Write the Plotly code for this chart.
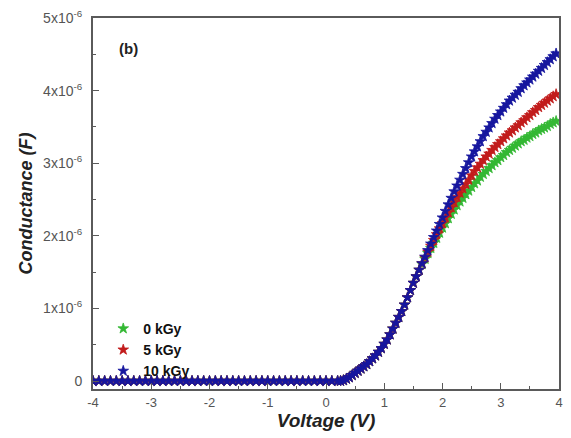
import plotly.graph_objects as go

# ---- data (conductance in units of 1e-6) ----
base_v = [-4.0, -3.9, -3.8, -3.7, -3.6, -3.5, -3.4, -3.3, -3.2, -3.1,
          -3.0, -2.9, -2.8, -2.7, -2.6, -2.5, -2.4, -2.3, -2.2, -2.1,
          -2.0, -1.9, -1.8, -1.7, -1.6, -1.5, -1.4, -1.3, -1.2, -1.1,
          -1.0, -0.9, -0.8, -0.7, -0.6, -0.5, -0.4, -0.3, -0.2, -0.1,
          0.0, 0.1, 0.2]
base_g = [0.0, 0.0, 0.0, 0.0, 0.0, 0.0, 0.0, 0.0, 0.0, 0.0,
          0.0, 0.0, 0.0, 0.0, 0.0, 0.0, 0.0, 0.0, 0.0, 0.0,
          0.0, 0.0, 0.0, 0.0, 0.0, 0.0, 0.0, 0.0, 0.0, 0.0,
          0.0, 0.0, 0.0, 0.0, 0.0, 0.0, 0.0, 0.0, 0.0, 0.0,
          0.0, 0.0, 0.0]

rise_v = [0.25, 0.30, 0.35, 0.40, 0.45, 0.50, 0.55, 0.60, 0.65, 0.70,
          0.75, 0.80, 0.85, 0.90, 0.95, 1.00, 1.05, 1.10, 1.15, 1.20,
          1.25, 1.30, 1.35, 1.40, 1.45, 1.50, 1.55, 1.60]
rise_g = [0.00, 0.01, 0.03, 0.05, 0.08, 0.11, 0.14, 0.17, 0.20, 0.23,
          0.27, 0.31, 0.35, 0.40, 0.45, 0.51, 0.57, 0.64, 0.72, 0.80,
          0.88, 0.96, 1.05, 1.15, 1.25, 1.35, 1.44, 1.53]

high_v = [1.65, 1.70, 1.75, 1.80, 1.85, 1.90, 1.95, 2.00, 2.05, 2.10,
          2.15, 2.20, 2.25, 2.30, 2.35, 2.40, 2.45, 2.50, 2.55, 2.60,
          2.65, 2.70, 2.75, 2.80, 2.85, 2.90, 2.95, 3.00, 3.05, 3.10,
          3.15, 3.20, 3.25, 3.30, 3.35, 3.40, 3.45, 3.50, 3.55, 3.60,
          3.65, 3.70, 3.75, 3.80, 3.85, 3.90, 3.95]
g0_high = [1.61, 1.68, 1.76, 1.83, 1.90, 1.97, 2.04, 2.11, 2.17, 2.24,
           2.30, 2.36, 2.42, 2.47, 2.52, 2.57, 2.62, 2.67, 2.72, 2.76,
           2.81, 2.85, 2.89, 2.93, 2.97, 3.01, 3.04, 3.08, 3.11, 3.15,
           3.18, 3.21, 3.24, 3.27, 3.30, 3.32, 3.35, 3.37, 3.40, 3.42,
           3.45, 3.47, 3.49, 3.51, 3.54, 3.56, 3.58]
g5_high = [1.62, 1.70, 1.78, 1.86, 1.94, 2.02, 2.10, 2.17, 2.25, 2.32,
           2.39, 2.46, 2.53, 2.59, 2.65, 2.71, 2.77, 2.83, 2.89, 2.94,
           2.99, 3.04, 3.09, 3.13, 3.18, 3.22, 3.26, 3.30, 3.34, 3.38,
           3.42, 3.45, 3.49, 3.52, 3.56, 3.59, 3.63, 3.66, 3.70, 3.73,
           3.77, 3.80, 3.83, 3.86, 3.89, 3.92, 3.95]
g10_high = [1.62, 1.71, 1.80, 1.89, 1.98, 2.07, 2.16, 2.25, 2.34, 2.43,
            2.52, 2.61, 2.69, 2.77, 2.85, 2.93, 3.01, 3.09, 3.16, 3.23,
            3.30, 3.37, 3.43, 3.49, 3.55, 3.61, 3.66, 3.71, 3.76, 3.81,
            3.86, 3.90, 3.94, 3.98, 4.03, 4.07, 4.11, 4.15, 4.19, 4.23,
            4.27, 4.31, 4.35, 4.39, 4.43, 4.47, 4.51]

series_names = ["0 kGy", "5 kGy", "10 kGy"]
series_high = [g0_high, g5_high, g10_high]
series_colors = ["#33b833", "#c21c1c", "#16169e"]

y_tickvals = [0, 1, 2, 3, 4, 5]
y_ticktext = ["0", "1x10<sup>-6</sup>", "2x10<sup>-6</sup>", "3x10<sup>-6</sup>",
              "4x10<sup>-6</sup>", "5x10<sup>-6</sup>"]
x_tickvals = [-4, -3, -2, -1, 0, 1, 2, 3, 4]
x_ticktext = ["-4", "-3", "-2", "-1", "0", "1", "2", "3", "4"]

SCALE = 1e-6

fig = go.Figure()
for name, high, col in zip(series_names, series_high, series_colors):
    xs = base_v + rise_v + high_v
    ys = [v * SCALE for v in base_g + rise_g + high]
    fig.add_trace(go.Scatter(
        x=xs, y=ys, mode="markers", name=name,
        marker=dict(symbol="star", size=8, color=col,
                    line=dict(width=0.8, color=col)),
    ))

axis_col = "#5a5a5a"
fig.update_layout(
    width=571, height=438,
    margin=dict(l=93, r=8, t=17, b=49),
    paper_bgcolor="white", plot_bgcolor="white",
    font=dict(family="Liberation Sans, Arial", color="#444444"),
    showlegend=True,
    legend=dict(x=0.022, y=0.205, xanchor="left", yanchor="top",
                bgcolor="rgba(0,0,0,0)",
                font=dict(size=14, color="#111111", family="Liberation Sans, Arial",
                          weight="bold"),
                itemsizing="trace", tracegroupgap=0),
    annotations=[dict(text="<b>(b)</b>", x=0.052, y=0.918, xref="paper", yref="paper",
                      showarrow=False, xanchor="left", yanchor="middle",
                      font=dict(size=15, color="#222222"))],
)
fig.update_xaxes(
    range=[-4, 4], tickvals=x_tickvals, ticktext=x_ticktext,
    ticks="inside", ticklen=6, tickwidth=1.2,
    tickcolor=axis_col, showline=True, linecolor=axis_col, linewidth=2, mirror=True,
    showgrid=False, zeroline=False, tickfont=dict(size=13, color="#555555"),
    minor=dict(dtick=0.5, ticks="inside", ticklen=3, tickcolor=axis_col, showgrid=False),
    title=dict(text="<b><i>Voltage (V)</i></b>", font=dict(size=19, color="#222222"),
               standoff=4),
)
fig.update_yaxes(
    range=[-0.11e-6, 5.0e-6], tickvals=[v * SCALE for v in y_tickvals], ticktext=y_ticktext,
    ticks="inside", ticklen=6, tickwidth=1.2,
    tickcolor=axis_col, showline=True, linecolor=axis_col, linewidth=2, mirror=True,
    showgrid=False, zeroline=False, tickfont=dict(size=14, color="#555555"),
    minor=dict(dtick=0.5e-6, ticks="inside", ticklen=3, tickcolor=axis_col, showgrid=False),
    ticklabelstandoff=6,
    title=dict(text="<b><i>Conductance (F)</i></b>", font=dict(size=18, color="#222222"),
               standoff=6),
)

fig.write_html("out.html")
